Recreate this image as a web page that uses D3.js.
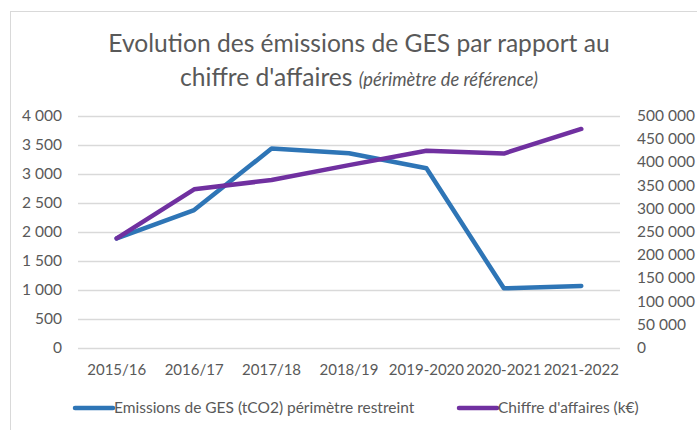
<!DOCTYPE html>
<html>
<head>
<meta charset="utf-8">
<script src="https://cdn.jsdelivr.net/npm/d3@7"></script>
<style>
  body { margin: 0; background: #fff; }
  svg { display: block; font-family: Lato, "Open Sans", sans-serif; }
</style>
</head>
<body>
<svg width="697" height="430"></svg>
<script>
//*
//* Data
//*

var categories = ["2015/16", "2016/17", "2017/18", "2018/19", "2019-2020", "2020-2021", "2021-2022"];
var emissions = [1880, 2370, 3430, 3350, 3090, 1020, 1060];
var chiffre = [235000, 341000, 361000, 393000, 424000, 418000, 471000];
var leftTicks = [0, 500, 1000, 1500, 2000, 2500, 3000, 3500, 4000];
var rightTicks = [0, 50000, 100000, 150000, 200000, 250000, 300000, 350000, 400000, 450000, 500000];
var seriesNames = ["Emissions de GES (tCO2) périmètre restreint", "Chiffre d'affaires (k€)"];

//*
//* Drawing
//*

var svg = d3.select("svg");
var textColor = "#595959";
var blue = "#2E75B6", purple = "#7030A0";
var plotLeft = 78, plotRight = 620, plotTop = 115.5, plotBottom = 347.5;

var fmt = function(v) { return d3.format(",")(v).replace(/,/g, " "); };

var x = d3.scaleBand().domain(categories).range([plotLeft, plotRight]);
var yL = d3.scaleLinear().domain([0, 4000]).range([plotBottom, plotTop]);
var yR = d3.scaleLinear().domain([0, 500000]).range([plotBottom, plotTop]);

/* frame */
svg.append("rect")
	.attr("x", 10.5).attr("y", 11.5)
	.attr("width", 700).attr("height", 430)
	.attr("fill", "none")
	.attr("stroke", "#d9d9d9");

/* title */
var title = svg.append("text")
	.attr("text-anchor", "middle")
	.attr("fill", textColor)
	.style("font-size", "24.6px");
title.append("tspan").attr("x", 359).attr("y", 52)
	.text("Evolution des émissions de GES par rapport au");
var t2 = title.append("tspan").attr("x", 359).attr("y", 86);
t2.append("tspan").text("chiffre d'affaires ");
t2.append("tspan").style("font-style", "italic").style("font-size", "18.3px")
	.text("(périmètre de référence)");

/* gridlines */
svg.append("g")
	.selectAll("line")
	.data(leftTicks)
	.enter()
	.append("line")
	.attr("x1", plotLeft).attr("x2", plotRight)
	.attr("y1", function(d) { return Math.round(yL(d)) + 0.5; })
	.attr("y2", function(d) { return Math.round(yL(d)) + 0.5; })
	.attr("stroke", "#d9d9d9")
	.attr("stroke-width", 1.5);

/* left axis */
var axL = svg.append("g")
	.attr("transform", "translate(" + (plotLeft - 16) + ",0)")
	.call(d3.axisLeft(yL).tickValues(leftTicks).tickFormat(fmt).tickSize(0).tickPadding(0));
axL.select(".domain").remove();

/* right axis */
var axR = svg.append("g")
	.attr("transform", "translate(" + (plotRight + 17) + ",0)")
	.call(d3.axisRight(yR).tickValues(rightTicks).tickFormat(fmt).tickSize(0).tickPadding(0));
axR.select(".domain").remove();

/* x axis */
var axX = svg.append("g")
	.attr("transform", "translate(0," + (plotBottom + 12) + ")")
	.call(d3.axisBottom(x).tickSize(0).tickPadding(5));
axX.select(".domain").remove();

svg.selectAll(".tick text")
	.attr("fill", textColor)
	.style("font-family", "Lato, sans-serif")
	.style("font-size", "15.5px");
axX.selectAll(".tick text").style("font-size", "15px");

/* lines */
var cx = function(d, i) { return x(categories[i]) + x.bandwidth() / 2; };

svg.append("path")
	.datum(emissions)
	.attr("fill", "none")
	.attr("stroke", blue)
	.attr("stroke-width", 4.5)
	.attr("stroke-linecap", "round")
	.attr("stroke-linejoin", "round")
	.attr("d", d3.line().x(cx).y(function(d) { return yL(d); }));

svg.append("path")
	.datum(chiffre)
	.attr("fill", "none")
	.attr("stroke", purple)
	.attr("stroke-width", 4.5)
	.attr("stroke-linecap", "round")
	.attr("stroke-linejoin", "round")
	.attr("d", d3.line().x(cx).y(function(d) { return yR(d); }));

/* legend */
var legendX = [75, 459];
var legendColors = [blue, purple];
var lg = svg.append("g")
	.selectAll("g")
	.data(seriesNames)
	.enter()
	.append("g")
	.attr("transform", function(d, i) { return "translate(" + legendX[i] + ",408)"; });
lg.append("line")
	.attr("x1", 0).attr("x2", 38)
	.attr("stroke", function(d, i) { return legendColors[i]; })
	.attr("stroke-width", 4.5)
	.attr("stroke-linecap", "round");
lg.append("text")
	.attr("x", 39).attr("dy", "0.35em")
	.attr("fill", textColor)
	.style("font-size", "15.5px")
	.text(function(d) { return d; });
</script>
</body>
</html>
